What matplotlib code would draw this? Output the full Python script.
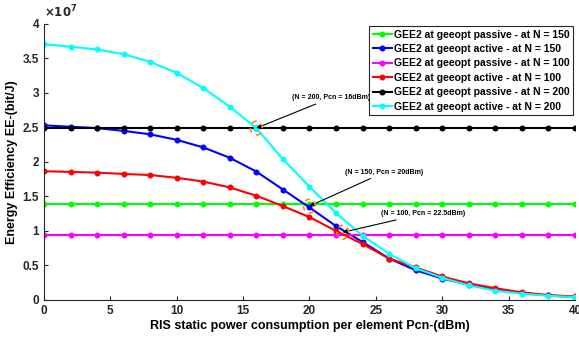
import numpy as np
from matplotlib import pyplot as plt
from matplotlib.patches import Ellipse
from matplotlib.ticker import FuncFormatter

plt.rcParams['font.family'] = ['Liberation Sans', 'DejaVu Sans']
plt.rcParams['font.weight'] = 'bold'

pcn = list(range(0, 41, 2))

# EE values in units of 1e7 bit/J
passive_150 = [1.39] * 21
active_150 = [2.53, 2.51, 2.49, 2.45, 2.40, 2.32, 2.21, 2.06, 1.86, 1.60, 1.34,
              1.07, 0.84, 0.60, 0.43, 0.31, 0.22, 0.145, 0.10, 0.065, 0.04]
passive_100 = [0.94] * 21
active_100 = [1.865, 1.855, 1.845, 1.826, 1.81, 1.77, 1.715, 1.63, 1.51, 1.36, 1.20,
              1.00, 0.81, 0.60, 0.47, 0.34, 0.24, 0.17, 0.11, 0.07, 0.05]
passive_200 = [2.49] * 21
active_200 = [3.705, 3.67, 3.63, 3.56, 3.45, 3.29, 3.07, 2.80, 2.49, 2.04, 1.64,
              1.26, 0.93, 0.67, 0.46, 0.32, 0.21, 0.135, 0.09, 0.06, 0.04]

series = [
    (passive_150, "#00ff00", "GEE2 at geeopt passive - at N = 150"),
    (active_150, "#0000ff", "GEE2 at geeopt active - at N = 150"),
    (passive_100, "#ff00ff", "GEE2 at geeopt passive - at N = 100"),
    (active_100, "#ff0000", "GEE2 at geeopt active - at N = 100"),
    (passive_200, "#000000", "GEE2 at geeopt passive - at N = 200"),
    (active_200, "#00ffff", "GEE2 at geeopt active - at N = 200"),
]

# crossing points (Pcn, EE) and their labels
cross_x = [16, 20, 22.5]
cross_y = [2.49, 1.36, 0.98]
cross_text = ["(N = 200, Pcn = 16dBm)", "(N = 150, Pcn = 20dBm)", "(N = 100, Pcn = 22.5dBm)"]
text_pos = [(18.7, 2.93), (22.7, 1.85), (25.4, 1.25)]

fig = plt.figure(figsize=(5.79, 3.37), dpi=100)
ax = fig.add_axes([0.076, 0.110, 0.917, 0.819])

for values, color, label in series:
    ax.plot(pcn, np.array(values) * 1e7, color=color, linewidth=1.5,
            marker="o", markersize=3.3, label=label)

for cx, cy, txt, tp in zip(cross_x, cross_y, cross_text, text_pos):
    ax.add_patch(Ellipse((cx, cy * 1e7), 0.9, 0.2e7, fill=False, edgecolor="#ff7f27",
                         linestyle=(0, (3, 3)), linewidth=1.2, zorder=5))
    ax.annotate(txt, xy=(cx, cy * 1e7), xytext=(tp[0], tp[1] * 1e7),
                fontsize=5, fontweight="bold", ha="left", va="center",
                arrowprops=dict(arrowstyle="-|>", color="black", lw=0.8,
                                mutation_scale=6, shrinkA=0, shrinkB=0))

ax.set_xlim(0, 40)
ax.set_ylim(0, 4e7)
ax.set_xticks(range(0, 41, 5))
ax.set_yticks(np.arange(0, 4.01e7, 0.5e7))
ax.yaxis.set_major_formatter(FuncFormatter(lambda v, p: f"{v / 1e7:g}"))
ax.text(0, 1.012, r"$\times10^{7}$", transform=ax.transAxes, fontsize=8.5,
        ha="left", va="bottom", color="#262626")
ax.tick_params(direction="in", labelsize=8.5, length=3, width=0.8, colors="#262626")
ax.spines["top"].set_visible(False)
ax.spines["right"].set_visible(False)
for s in ["left", "bottom"]:
    ax.spines[s].set_color("#262626")
ax.set_xlabel("RIS static power consumption per element Pcn-(dBm)", fontsize=9,
              fontweight="bold", labelpad=2)
ax.set_ylabel("Energy Efficiency EE-(bit/J)", fontsize=9, fontweight="bold", labelpad=3)

leg = ax.legend(loc="upper right", fontsize=7.5, handlelength=1.8, handletextpad=0.2,
                borderpad=0.35, labelspacing=0.42, borderaxespad=0.2, fancybox=False,
                framealpha=1)
leg.get_frame().set_edgecolor("#262626")
leg.get_frame().set_linewidth(0.8)

fig.savefig("out.png", dpi=100)
